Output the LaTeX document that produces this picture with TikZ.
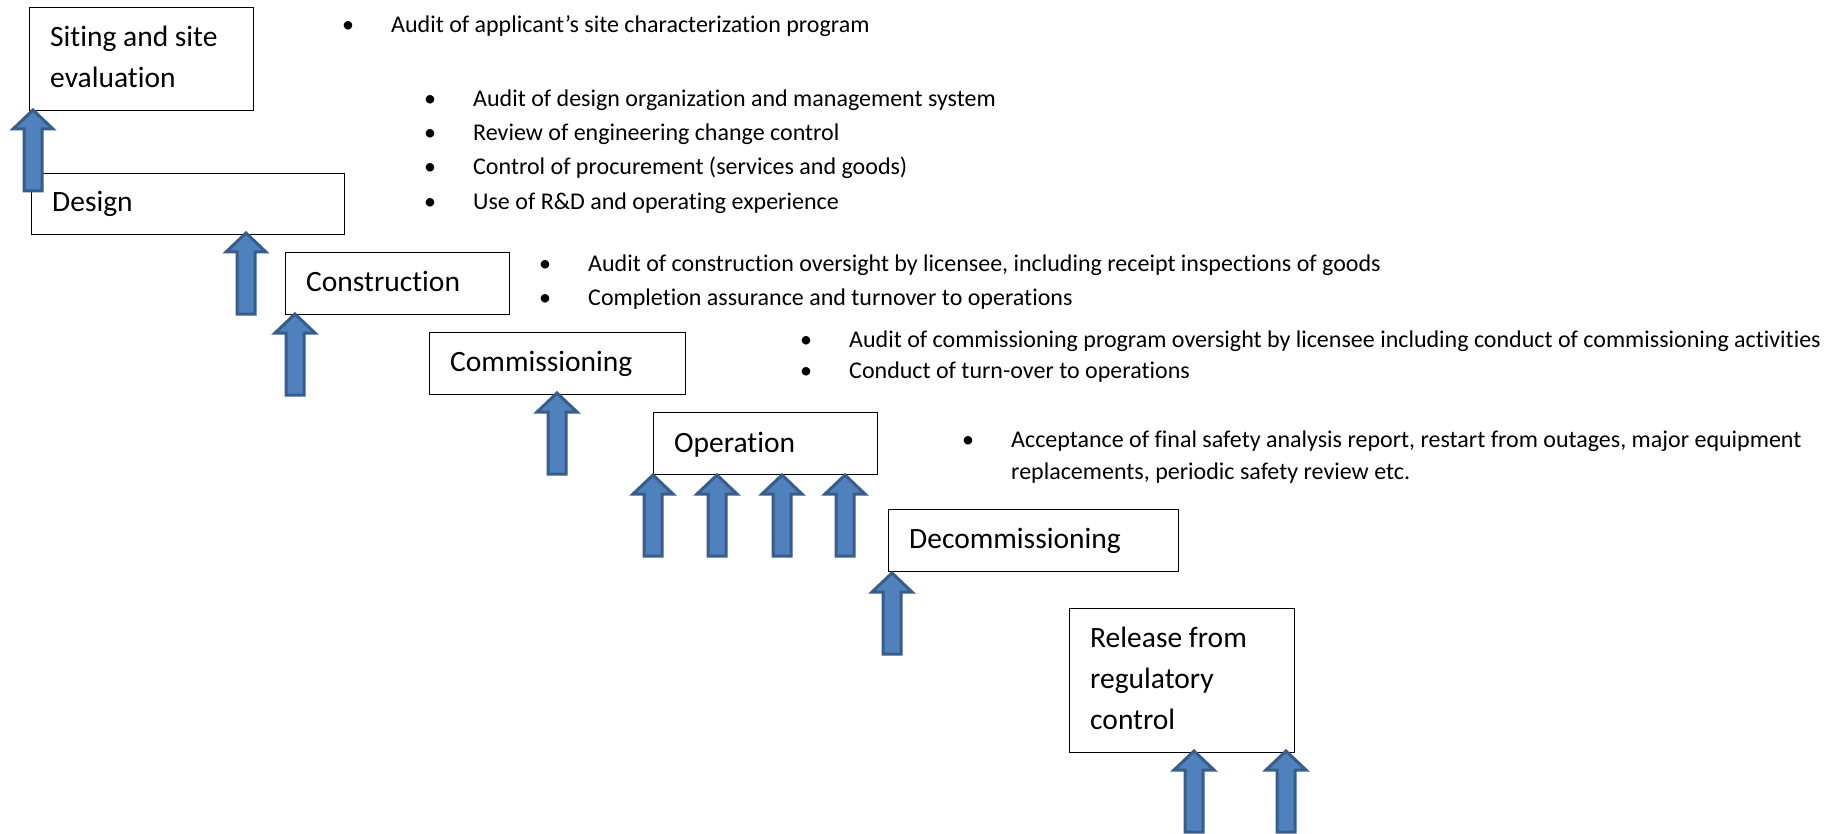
\documentclass[tikz,border=0pt]{standalone}
\usepackage{fontspec}
\setmainfont{Carlito}[Ligatures=NoCommon]
\definecolor{arrowfill}{HTML}{4F81BD}
\definecolor{arrowedge}{HTML}{385D8A}
\tikzset{
  stage/.style={rectangle, draw=black, line width=1.3pt, fill=white, anchor=north west, inner sep=0pt},
  stagelabel/.style={anchor=base west, inner sep=0pt, align=flush left, font=\fontsize{29.5}{41}\selectfont},
  auditdot/.style={anchor=base, inner sep=0pt, font=\fontsize{24}{32}\selectfont},
  audittext/.style={anchor=base west, inner sep=0pt, align=flush left, font=\fontsize{24}{32}\selectfont},
  liftarrow/.pic={
    \draw[line width=3pt, draw=arrowedge, fill=arrowfill, line join=miter]
      (0,0) -- (20,19) -- (9,19) -- (9,81) -- (-9,81) -- (-9,19) -- (-20,19) -- cycle;
  },
}
\newcommand{\auditpoint}[4]{%
  \node[auditdot] (#1-dot) at (#2,#3) {\textbullet};
  \node[audittext] (#1) at (#2+43,#3) {#4};
}

\begin{document}
\begin{tikzpicture}[x=1pt, y=-1pt]
        \useasboundingbox (0,0) rectangle (1838,834);

        % Stages
        \node[stage, minimum width=224pt, minimum height=103pt] (siting) at (29,7) {};
        \node[stage, minimum width=313pt, minimum height=61pt] (design) at (31,173) {};
        \node[stage, minimum width=224pt, minimum height=62pt] (construction) at (285,252) {};
        \node[stage, minimum width=256pt, minimum height=62pt] (commissioning) at (429,332) {};
        \node[stage, minimum width=224pt, minimum height=62pt] (operation) at (653,412) {};
        \node[stage, minimum width=290pt, minimum height=62pt] (decommissioning) at (888,509) {};
        \node[stage, minimum width=225pt, minimum height=144pt] (release) at (1069,608) {};

        % Stage labels
        \node[stagelabel, text width=200pt] (siting-txt) at ([shift={(21,40)}]siting.north west) {Siting and site\\evaluation};
        \node[stagelabel] (design-txt) at ([shift={(21,39)}]design.north west) {Design};
        \node[stagelabel] (construction-txt) at ([shift={(21,39)}]construction.north west) {Construction};
        \node[stagelabel] (commissioning-txt) at ([shift={(21,39)}]commissioning.north west) {Commissioning};
        \node[stagelabel] (operation-txt) at ([shift={(21,40)}]operation.north west) {Operation};
        \node[stagelabel] (decommissioning-txt) at ([shift={(21,39)}]decommissioning.north west) {Decommissioning};
        \node[stagelabel, text width=200pt] (release-txt) at ([shift={(21,39)}]release.north west) {Release from\\regulatory\\control};

        % Regulatory activities
        \auditpoint{site1}{348}{33}{Audit of applicant’s site characterization program}
        \auditpoint{design1}{430}{106.5}{Audit of design organization and management system}
        \auditpoint{design2}{430}{140.5}{Review of engineering change control}
        \auditpoint{design3}{430}{174.5}{Control of procurement (services and goods)}
        \auditpoint{design4}{430}{209.5}{Use of R\&D and operating experience}
        \auditpoint{constr1}{545}{271.5}{Audit of construction oversight by licensee, including receipt inspections of goods}
        \auditpoint{constr2}{545}{305.5}{Completion assurance and turnover to operations}
        \auditpoint{comm1}{806}{347.5}{Audit of commissioning program oversight by licensee including conduct of commissioning activities}
        \auditpoint{comm2}{806}{378}{Conduct of turn-over to operations}
        \node[auditdot] (oper1-dot) at (968,447.5) {\textbullet};
        \node[audittext, text width=830pt] (oper1) at (1011,447.5) {Acceptance of final safety analysis report, restart from outages, major equipment\\replacements, periodic safety review etc.};

        % Block arrows
        \pic (design-up) at (33,110) {liftarrow};
        \pic (construction-up) at (246,233) {liftarrow};
        \pic (commissioning-up) at (295,314) {liftarrow};
        \pic (operation-up) at (557,393) {liftarrow};
        \foreach \x [count=\i] in {653,717,782,845}
          \pic (decommissioning-up\i) at (\x,475) {liftarrow};
        \pic (release-up) at (892,573) {liftarrow};
        \pic (after-up1) at (1194,751) {liftarrow};
        \pic (after-up2) at (1286,751) {liftarrow};
\end{tikzpicture}
\end{document}
